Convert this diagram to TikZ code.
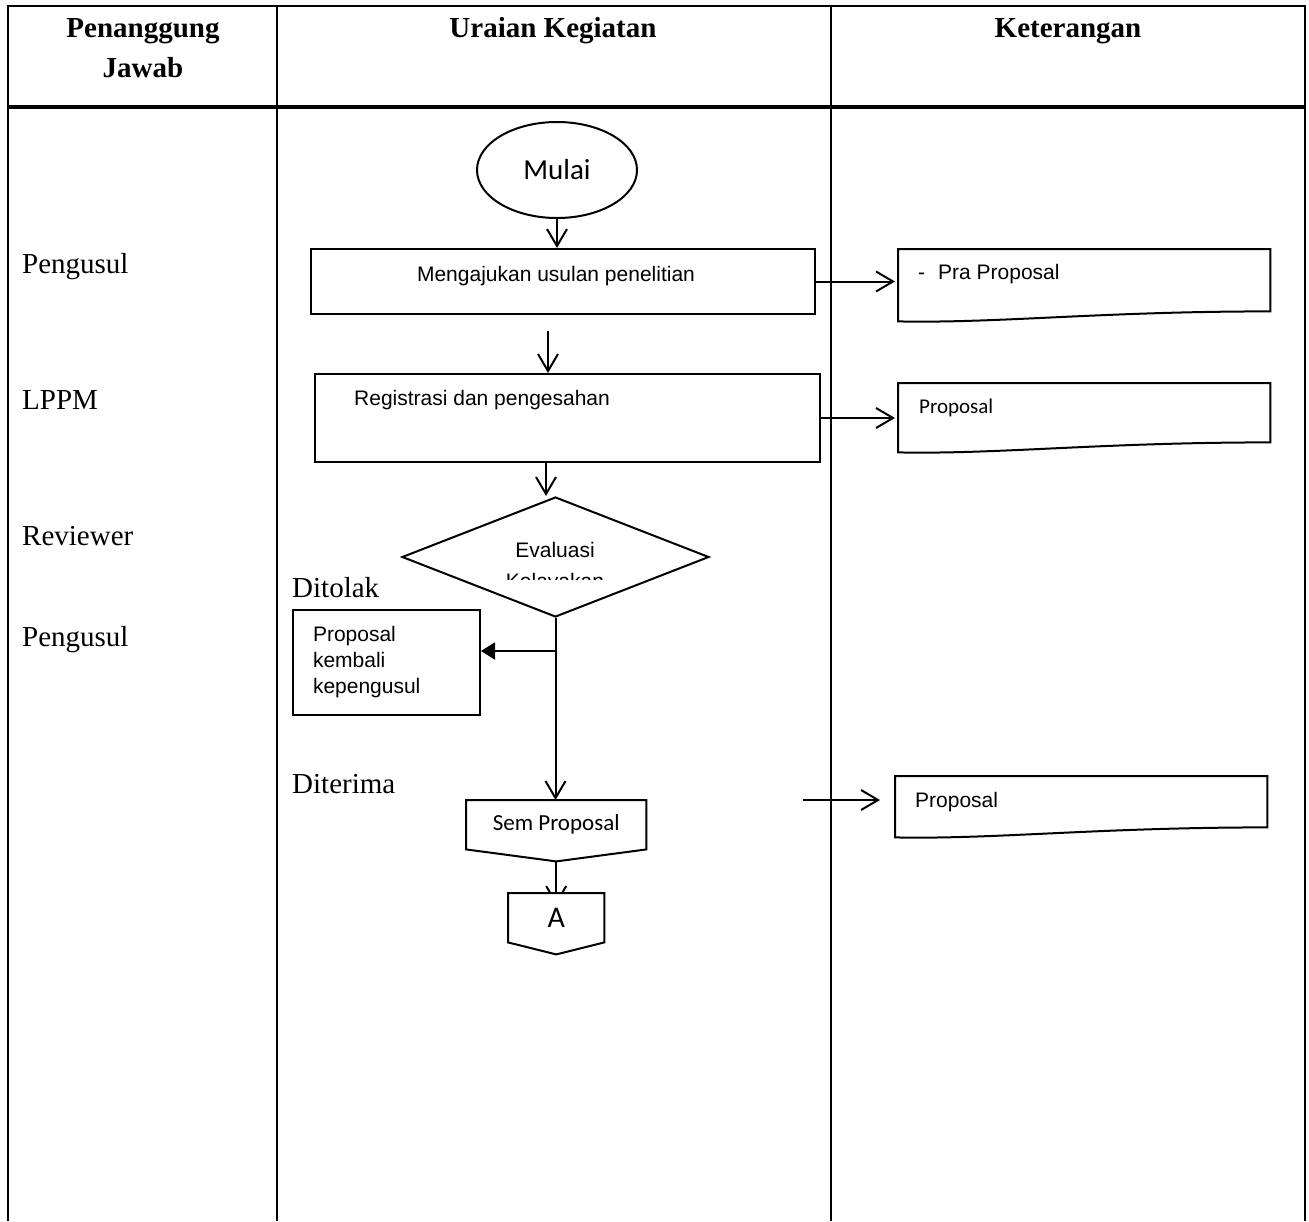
\documentclass[tikz,border=0pt]{standalone}
\usepackage{fontspec}
\setmainfont{Liberation Serif}
\setsansfont{Liberation Sans}
\newfontfamily\calibri{Carlito}
\usetikzlibrary{shapes.geometric,arrows.meta,backgrounds}

\tikzset{
  garis/.style={line width=2pt},
  tabel/.style={line width=2.8pt},
  kotak/.style={draw, line width=2pt, fill=white, inner sep=0pt},
  bidang/.style={inner sep=0pt, fill=white},
  panah/.style={line width=2pt, -{Straight Barb[length=17pt,width=20pt]}},
  panahisi/.style={line width=2pt, -{Triangle[length=14pt,width=17pt]}},
  judul/.style={font=\fontsize{29}{40}\selectfont\bfseries, inner sep=0pt},
  peran/.style={font=\fontsize{29}{34}\selectfont, anchor=base west, inner sep=0pt},
  isi/.style={font=\sffamily\fontsize{21}{26}\selectfont, inner sep=0pt},
  isic/.style={font=\calibri\fontsize{23}{28}\selectfont, inner sep=0pt},
}

% garis luar dokumen (bawah bergelombang)
\newcommand{\wadah}[1]{%
  \draw[garis] (#1.north west) -- (#1.north east) -- (#1.south east)
    .. controls ([xshift=-170pt]#1.south east) and ([xshift=100pt,yshift=-12pt]#1.south west)
    .. ([yshift=-10pt]#1.south west) -- cycle;}

\begin{document}
\begin{tikzpicture}[x=1pt,y=-1pt]
\useasboundingbox (0,0) rectangle (1309,1221);

% TABEL
\draw[tabel] (8,1221) -- (8,6) -- (1305,6) -- (1305,1221);
\draw[tabel] (277,6) -- (277,1221);
\draw[tabel] (831,6) -- (831,1221);
\draw[line width=4pt] (8,107) -- (1305,107);

% JUDUL KOLOM
\node[judul, anchor=north, align=center] (pj) at (143,18) {Penanggung\\Jawab};
\node[judul, anchor=base] (uk) at (553,37) {Uraian Kegiatan};
\node[judul, anchor=base] (ket) at (1068,37) {Keterangan};

% PENANGGUNG JAWAB
\node[peran] (r1) at (22,273) {Pengusul};
\node[peran] (r2) at (22,409) {LPPM};
\node[peran] (r3) at (22,545) {Reviewer};
\node[peran] (r4) at (22,646) {Pengusul};
\node[peran] (tolak) at (292,597) {Ditolak};
\node[peran] (terima) at (292,793) {Diterima};

% ALUR KEGIATAN
\node[kotak, ellipse, minimum width=160pt, minimum height=96pt, font=\calibri\fontsize{29}{34}\selectfont] (mulai) at (557,170) {Mulai};

\node[kotak, minimum width=504pt, minimum height=65pt, anchor=north west] (usul) at (310,248) {};
\node[isi, anchor=base] (tusul) at (556,281) {Mengajukan usulan penelitian};

\node[kotak, minimum width=505pt, minimum height=88pt, anchor=north west] (reg) at (314,373) {};
\node[isi, anchor=base west] (treg) at (354,405) {Registrasi dan pengesahan};

\node[kotak, diamond, minimum width=307pt, minimum height=120pt] (eval) at (555.5,557) {};
\begin{scope}
  \clip (402,497) rectangle (709,579);
  \node[isi, anchor=base] (teval) at (555,557) {Evaluasi};
  \node[isi, anchor=base] (tlayak) at (555,588) {Kelayakan};
\end{scope}

\node[kotak, minimum width=187pt, minimum height=105pt, anchor=north west, align=left,
  text width=147pt, inner xsep=20pt, font=\sffamily\fontsize{21}{26}\selectfont] (kembali) at (292,609) {Proposal\\kembali\\kepengusul};

\node[bidang, isic, minimum width=180pt, minimum height=49pt, anchor=north west] (sem) at (466,800) {Sem Proposal};
\draw[garis] (sem.north west) -- (sem.north east) -- (sem.south east) -- ([yshift=-12pt]sem.south) -- (sem.south west) -- cycle;

\node[bidang, font=\calibri\fontsize{30}{34}\selectfont, minimum width=96pt, minimum height=49pt, anchor=north west] (a) at (508,893) {A};
\draw[garis] (a.north west) -- (a.north east) -- (a.south east) -- ([yshift=-12pt]a.south) -- (a.south west) -- cycle;

% KETERANGAN
\node[minimum width=372pt, minimum height=62pt, inner sep=0pt, anchor=north west] (dok1) at (898,249) {};
\wadah{dok1}
\node[isi, anchor=base west] (tdok1) at (918,279) {-\hspace{13pt}Pra Proposal};

\node[minimum width=372pt, minimum height=59pt, inner sep=0pt, anchor=north west] (dok2) at (898,383) {};
\wadah{dok2}
\node[isic, font=\calibri\fontsize{21}{26}\selectfont, anchor=base west] (tdok2) at (919,413) {Proposal};

\node[minimum width=372pt, minimum height=51pt, inner sep=0pt, anchor=north west] (dok3) at (895,776) {};
\wadah{dok3}
\node[isi, anchor=base west] (tdok3) at (915,807) {Proposal};

% PANAH
\begin{scope}[on background layer]
  \draw[panah] (mulai.south) -- (mulai.south |- usul.north);
  \coordinate (k1) at (548,331);
  \draw[panah] (k1) -- (k1 |- reg.north);
  \coordinate (k2) at (546,461);
  \draw[panah] (k2) -- (k2 |- eval.north);
  \draw[panah] (eval.south) -- (eval.south |- sem.north);
  \coordinate (k3) at (555.5,651);
  \draw[panahisi] (k3) -- (k3 -| kembali.east);
  \draw[panah] ([yshift=-12pt]sem.south) -- ([yshift=-12pt]a.north);
  \draw[panah, shorten >=3pt] (usul.east) -- (usul.east -| dok1.west);
  \draw[panah, shorten >=3pt] (reg.east) -- (reg.east -| dok2.west);
  \coordinate (k4) at (803,800);
  \draw[panah, shorten >=15pt] (k4) -- (k4 -| dok3.west);
\end{scope}

\end{tikzpicture}
\end{document}
